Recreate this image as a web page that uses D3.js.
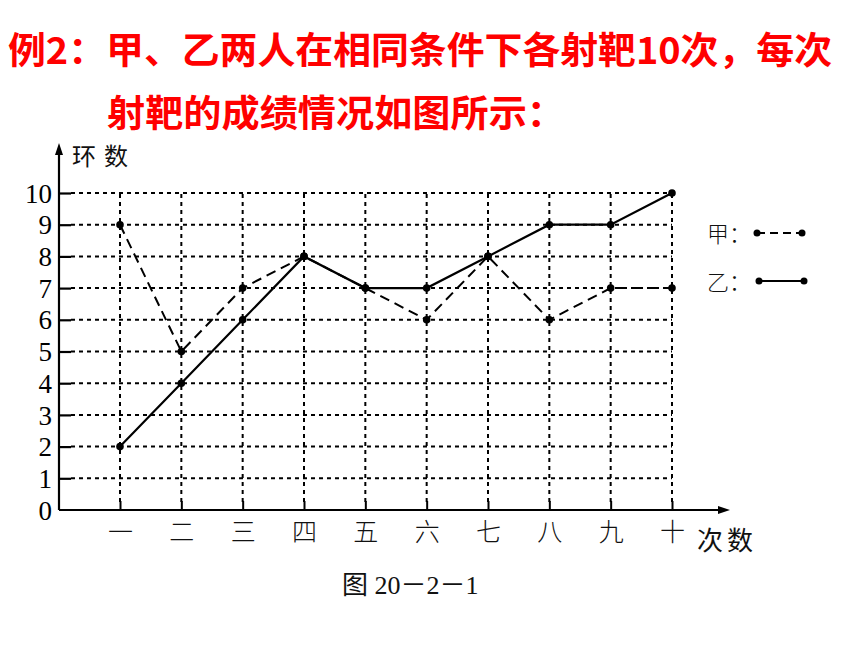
<!DOCTYPE html>
<html><head><meta charset="utf-8">
<script src="https://cdn.jsdelivr.net/npm/d3@7/dist/d3.min.js"></script>
<style>
html,body{margin:0;padding:0;background:#fff;}
svg{display:block;}
</style></head>
<body>
<svg id="chart" width="860" height="645"></svg>
<script>
const titleLines = ["例2：甲、乙两人在相同条件下各射靶10次，每次", "射靶的成绩情况如图所示："];
const categories = ["一","二","三","四","五","六","七","八","九","十"];
const seriesJia = [9,5,7,8,7,6,8,6,7,7];
const seriesYi  = [2,4,6,8,7,7,8,9,9,10];
const yTicks = [0,1,2,3,4,5,6,7,8,9,10];
const seriesNames = ["甲","乙"];
const yAxisTitle = "环数";
const xAxisTitle = "次数";
const caption = "图 20－2－1";

const svg = d3.select("#chart");

// Title
svg.append("text").attr("x", 8).attr("y", 64)
  .attr("textLength", 824).attr("lengthAdjust", "spacingAndGlyphs")
  .style("font-family", "'Noto Sans CJK SC', sans-serif").style("font-weight", 700)
  .style("font-size", "37px").attr("fill", "#ff0000").text(titleLines[0]);
svg.append("text").attr("x", 107).attr("y", 127)
  .attr("textLength", 458).attr("lengthAdjust", "spacingAndGlyphs")
  .style("font-family", "'Noto Sans CJK SC', sans-serif").style("font-weight", 700)
  .style("font-size", "37px").attr("fill", "#ff0000").text(titleLines[1]);

const x = d3.scalePoint().domain(categories).range([120, 672]);
const y = d3.scaleLinear().domain([0, 10]).range([510, 193]);
const x0 = 59;

const g = svg.append("g");

// Horizontal grid lines
g.selectAll(".hgrid").data(yTicks.filter(d => d > 0)).join("line")
  .attr("x1", x0 + 12).attr("x2", x(categories[categories.length-1]))
  .attr("y1", d => y(d)).attr("y2", d => y(d))
  .attr("stroke", "#000").attr("stroke-width", 2).attr("stroke-dasharray", "4,4");
// Vertical grid lines
g.selectAll(".vgrid").data(categories).join("line")
  .attr("x1", d => x(d)).attr("x2", d => x(d))
  .attr("y1", y(0) - 8).attr("y2", y(10))
  .attr("stroke", "#000").attr("stroke-width", 2).attr("stroke-dasharray", "4,4");

// Y axis
const yAxis = d3.axisLeft(y).tickValues(yTicks).tickSize(-12).tickPadding(18);
const ya = g.append("g").attr("transform", `translate(${x0},0)`).call(yAxis);
ya.select(".domain").remove();
ya.selectAll(".tick line").attr("stroke", "#000").attr("stroke-width", 2.2);
ya.selectAll(".tick").filter(d => d === 0).select("line").remove();
ya.selectAll(".tick text").style("font-family", "'Liberation Serif', 'Times New Roman', serif")
  .style("font-size", "27px").attr("fill", "#000").attr("dy", "0.34em").attr("x", -7);

// X axis
const xAxis = d3.axisBottom(x).tickSize(-9).tickPadding(20);
const xa = g.append("g").attr("transform", `translate(0,${y(0)})`).call(xAxis);
xa.select(".domain").remove();
xa.selectAll(".tick line").attr("stroke", "#000").attr("stroke-width", 2);
xa.selectAll(".tick text").style("font-family", "'Noto Sans CJK SC', sans-serif")
  .style("font-weight", 300).style("font-size", "25px").attr("fill", "#111")
  .attr("y", 8).attr("dy", "0.9em");

// Axis lines with arrows
g.append("line").attr("x1", x0).attr("x2", x0).attr("y1", y(0)).attr("y2", 152)
  .attr("stroke", "#000").attr("stroke-width", 2.2);
g.append("path").attr("d", `M${x0},143 L${x0-4},155 L${x0+4},155 Z`).attr("fill", "#000");
g.append("line").attr("x1", x0).attr("x2", 722).attr("y1", y(0)).attr("y2", y(0))
  .attr("stroke", "#000").attr("stroke-width", 2.2);
g.append("path").attr("d", `M730,${y(0)} L718,${y(0)-4} L718,${y(0)+4} Z`).attr("fill", "#000");

// Axis titles
g.append("text").attr("x", 72).attr("y", 165).text(yAxisTitle)
  .style("font-family", "'Noto Sans CJK SC', sans-serif").style("font-size", "24px")
  .attr("letter-spacing", "8").attr("fill", "#111");
g.append("text").attr("x", 697).attr("y", 550).text(xAxisTitle)
  .style("font-family", "'Noto Sans CJK SC', sans-serif").style("font-size", "26px")
  .attr("letter-spacing", "4").attr("fill", "#111");

// Lines
const line = d3.line().x((d, i) => x(categories[i])).y(d => y(d));
g.append("path").datum(seriesJia).attr("d", line).attr("fill", "none")
  .attr("stroke", "#000").attr("stroke-width", 2).attr("stroke-dasharray", "10,6");
g.append("path").datum(seriesYi).attr("d", line).attr("fill", "none")
  .attr("stroke", "#000").attr("stroke-width", 2.2);
[seriesJia, seriesYi].forEach(s => {
  g.selectAll(null).data(s).join("circle")
    .attr("cx", (d, i) => x(categories[i])).attr("cy", d => y(d)).attr("r", 3.8).attr("fill", "#000");
});

// Legend
const legend = [
  {name: seriesNames[0], y: 233, dash: "8,5", x1: 757, x2: 802},
  {name: seriesNames[1], y: 281, dash: null, x1: 759, x2: 804}
];
legend.forEach(l => {
  g.append("text").attr("x", 707).attr("y", l.y + 9).text(l.name + "：")
    .style("font-family", "'Noto Sans CJK SC', sans-serif").style("font-size", "22px")
    .style("font-weight", 300).attr("fill", "#111");
  g.append("line").attr("x1", l.x1).attr("x2", l.x2).attr("y1", l.y).attr("y2", l.y)
    .attr("stroke", "#000").attr("stroke-width", 2).attr("stroke-dasharray", l.dash);
  g.append("circle").attr("cx", l.x1).attr("cy", l.y).attr("r", 3.5).attr("fill", "#000");
  g.append("circle").attr("cx", l.x2).attr("cy", l.y).attr("r", 3.5).attr("fill", "#000");
});

// Caption
g.append("text").attr("x", 342).attr("y", 594).text(caption)
  .style("font-family", "'Liberation Serif', 'Noto Sans CJK SC', serif").style("font-size", "26px")
  .attr("fill", "#111");
</script>
</body></html>
